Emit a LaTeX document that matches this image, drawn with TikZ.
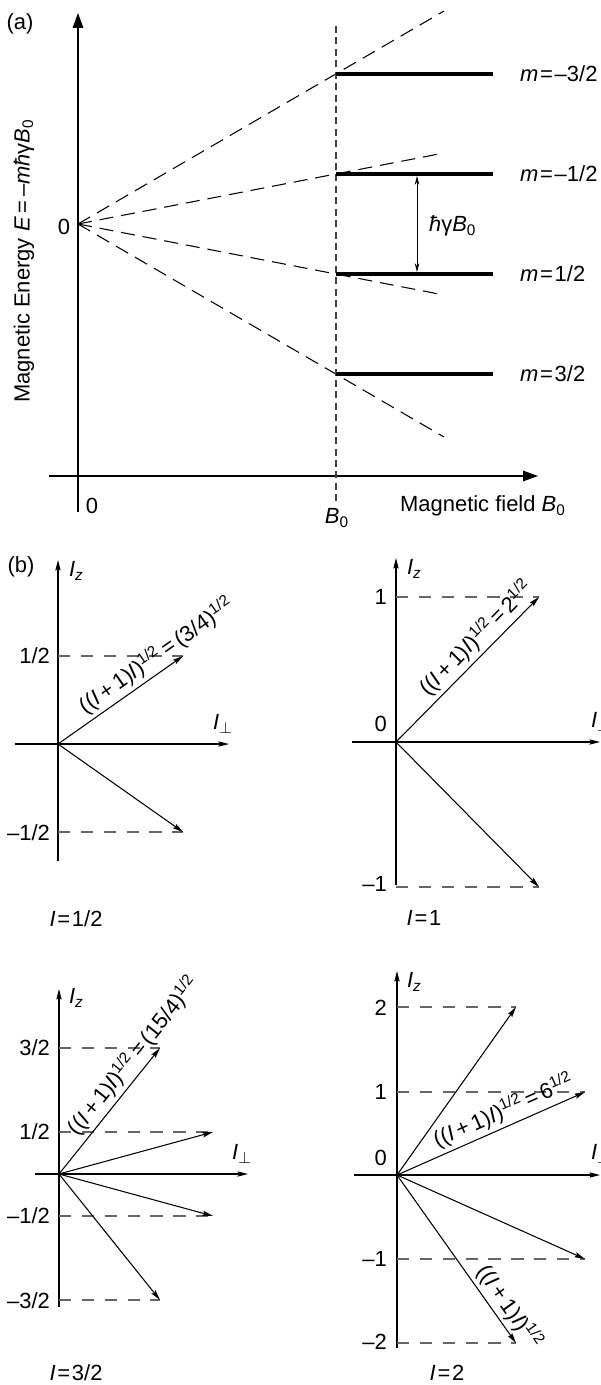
\documentclass[tikz,border=0pt]{standalone}
\usepackage{fontspec}
\setmainfont{Liberation Sans}
\usetikzlibrary{arrows.meta}
\newcommand{\IIlbl}{((\textit{I}\,+\,1)\textit{I})\textsuperscript{1/2}}
\begin{document}
\begin{tikzpicture}[x=0.02cm,y=-0.02cm,
  every node/.style={font=\fontsize{12.5}{14}\selectfont, inner sep=1pt},
  axisA/.style={line width=0.7pt, -{Triangle[length=8.5pt,width=6pt]}},
  axisB/.style={line width=0.6pt, -{Stealth[length=6pt,width=3pt,inset=1pt]}},
  vec/.style={line width=0.6pt, -{Stealth[length=6pt,width=3pt,inset=1pt]}},
  fan/.style={line width=0.6pt, dash pattern=on 8pt off 4.5pt},
  vdash/.style={line width=0.6pt, black!75, dash pattern=on 4pt off 2.5pt},
  hdash/.style={line width=0.6pt, black!60, dash pattern=on 7pt off 6pt},
  level/.style={line width=1.9pt},
  lab/.style={sloped, above, inner sep=2pt},
  tick/.style={anchor=east},
]
\useasboundingbox (0,0) rectangle (601,1385);

% ---------------- panel (a) ----------------
\node (pa) at (20,24) {(a)};
\coordinate (yb) at (78,512);
\coordinate (yt) at (78,13);
\coordinate (xl) at (49,476);
\coordinate (xr) at (538,476);
\draw[axisA] (yb) -- (yt);
\draw[axisA] (xl) -- (xr);
\node[rotate=90] (ylab) at (24,261) {Magnetic Energy \textit{E}\,=\,–\textit{mħ}γ\textit{B}\textsubscript{0}};
\node (zero) at (64,227) {0};
\node (zerox) at (92,506) {0};
\node[anchor=west] (xlab) at (398,506) {Magnetic field \textit{B}\textsubscript{0}};
\node (b0) at (337,518) {\textit{B}\textsubscript{0}};

\coordinate (oa) at (78,224);
\coordinate (f1) at (444,11);
\coordinate (f2) at (444,153);
\coordinate (f3) at (444,295);
\coordinate (f4) at (444,437);
\draw[fan] (oa) -- (f1);
\draw[fan] (oa) -- (f2);
\draw[fan] (oa) -- (f3);
\draw[fan] (oa) -- (f4);

\coordinate (vt) at (336,26);
\coordinate (vb) at (336,504);
\draw[vdash] (vt) -- (vb);

\coordinate (l1a) at (336,74);  \coordinate (l1b) at (493,74);
\coordinate (l2a) at (336,174); \coordinate (l2b) at (493,174);
\coordinate (l3a) at (336,274); \coordinate (l3b) at (493,274);
\coordinate (l4a) at (336,374); \coordinate (l4b) at (493,374);
\draw[level] (l1a) -- (l1b);
\draw[level] (l2a) -- (l2b);
\draw[level] (l3a) -- (l3b);
\draw[level] (l4a) -- (l4b);
\node[anchor=west] (m1) at (518,74) {\textit{m}\hspace{1pt}=\hspace{1pt}–3/2};
\node[anchor=west] (m2) at (518,174) {\textit{m}\hspace{1pt}=\hspace{1pt}–1/2};
\node[anchor=west] (m3) at (518,274) {\textit{m}\hspace{1pt}=\hspace{1pt}1/2};
\node[anchor=west] (m4) at (518,374) {\textit{m}\hspace{1pt}=\hspace{1pt}3/2};

\coordinate (h1) at (417,176);
\coordinate (h2) at (417,272);
\draw[line width=0.5pt, {Stealth[length=5pt,width=2.6pt]}-{Stealth[length=5pt,width=2.6pt]}] (h1) -- (h2);
\node[anchor=west] (hg) at (427,226) {\textit{ħ}γ\textit{B}\textsubscript{0}};

% ---------------- panel (b) ----------------
\node (pb) at (21,567) {(b)};

% I = 1/2
\coordinate (o1) at (58,744);
\coordinate (z1b) at (58,861);
\coordinate (z1t) at (58,560);
\coordinate (x1l) at (15,744);
\coordinate (x1r) at (229,744);
\coordinate (t1a) at (183,656);
\coordinate (t1b) at (183,832);
\coordinate (d1a) at (58,656);
\coordinate (d1b) at (58,832);
\draw[axisB] (z1b) -- (z1t);
\draw[axisB] (x1l) -- (x1r);
\draw[hdash] (d1a) -- (t1a);
\draw[hdash] (d1b) -- (t1b);
\draw[vec] (o1) -- node[lab,pos=0.86]{\IIlbl\,=\,(3/4)\textsuperscript{1/2}} (t1a);
\draw[vec] (o1) -- (t1b);
\node[tick] (k1a) at (52,656) {1/2};
\node[tick] (k1b) at (52,833) {–1/2};
\node[anchor=west] (iz1) at (67,571) {\textit{I}\textsubscript{\textit{z}}};
\node (ip1) at (223,724) {\textit{I}$_\perp$};
\node (c1) at (76,919) {\textit{I}\hspace{1pt}=\hspace{1pt}1/2};

% I = 1
\coordinate (o2) at (396,742);
\coordinate (z2b) at (396,885);
\coordinate (z2t) at (396,558);
\coordinate (x2l) at (352,742);
\coordinate (x2r) at (600,742);
\coordinate (t2a) at (539,597);
\coordinate (t2b) at (539,887);
\coordinate (d2a) at (396,597);
\coordinate (d2b) at (396,887);
\draw[axisB] (z2b) -- (z2t);
\draw[axisB] (x2l) -- (x2r);
\draw[hdash] (d2a) -- (t2a);
\draw[hdash] (d2b) -- (t2b);
\draw[vec] (o2) -- node[lab,pos=0.64]{\IIlbl\,=\,2\textsuperscript{1/2}} (t2a);
\draw[vec] (o2) -- (t2b);
\node[tick] (k2a) at (389,597) {1};
\node[tick] (k2o) at (389,724) {0};
\node[tick] (k2b) at (389,884) {–1};
\node[anchor=west] (iz2) at (405,569) {\textit{I}\textsubscript{\textit{z}}};
\node[anchor=west] (ip2) at (589,722) {\textit{I}$_\perp$};
\node (c2) at (424,918) {\textit{I}\hspace{1pt}=\hspace{1pt}1};

% I = 3/2
\coordinate (o3) at (59,1174);
\coordinate (z3b) at (59,1307);
\coordinate (z3t) at (59,989);
\coordinate (x3l) at (35,1174);
\coordinate (x3r) at (248,1174);
\coordinate (t3a) at (160,1048);
\coordinate (t3b) at (213,1132);
\coordinate (t3c) at (213,1216);
\coordinate (t3d) at (160,1300);
\coordinate (d3a) at (59,1048);
\coordinate (d3b) at (59,1132);
\coordinate (d3c) at (59,1216);
\coordinate (d3d) at (59,1300);
\draw[axisB] (z3b) -- (z3t);
\draw[axisB] (x3l) -- (x3r);
\draw[hdash] (d3a) -- (t3a);
\draw[hdash] (d3b) -- (t3b);
\draw[hdash] (d3c) -- (t3c);
\draw[hdash] (d3d) -- (t3d);
\draw[vec] (o3) -- node[lab,pos=0.86]{\IIlbl\,=\,(15/4)\textsuperscript{1/2}} (t3a);
\draw[vec] (o3) -- (t3b);
\draw[vec] (o3) -- (t3c);
\draw[vec] (o3) -- (t3d);
\node[tick] (k3a) at (52,1048) {3/2};
\node[tick] (k3b) at (52,1132) {1/2};
\node[tick] (k3c) at (52,1216) {–1/2};
\node[tick] (k3d) at (52,1301) {–3/2};
\node[anchor=west] (iz3) at (67,998) {\textit{I}\textsubscript{\textit{z}}};
\node (ip3) at (242,1154) {\textit{I}$_\perp$};
\node (c3) at (76,1373) {\textit{I}\hspace{1pt}=\hspace{1pt}3/2};

% I = 2
\coordinate (o4) at (397,1175);
\coordinate (z4b) at (397,1348);
\coordinate (z4t) at (397,971);
\coordinate (x4l) at (354,1175);
\coordinate (x4r) at (600,1175);
\coordinate (t4a) at (516,1007);
\coordinate (t4b) at (585,1092);
\coordinate (t4c) at (585,1259);
\coordinate (t4d) at (516,1343);
\coordinate (d4a) at (397,1007);
\coordinate (d4b) at (397,1092);
\coordinate (d4c) at (397,1259);
\coordinate (d4d) at (397,1343);
\draw[axisB] (z4b) -- (z4t);
\draw[axisB] (x4l) -- (x4r);
\draw[hdash] (d4a) -- (t4a);
\draw[hdash] (d4b) -- (t4b);
\draw[hdash] (d4c) -- (t4c);
\draw[hdash] (d4d) -- (t4d);
\draw[vec] (o4) -- (t4a);
\draw[vec] (o4) -- node[lab,pos=0.6]{\IIlbl\,=\,6\textsuperscript{1/2}} (t4b);
\draw[vec] (o4) -- (t4c);
\draw[vec] (o4) -- node[lab,pos=0.84]{\IIlbl} (t4d);
\node[tick] (k4a) at (389,1008) {2};
\node[tick] (k4b) at (389,1092) {1};
\node[tick] (k4o) at (389,1158) {0};
\node[tick] (k4c) at (389,1259) {–1};
\node[tick] (k4d) at (389,1342) {–2};
\node[anchor=west] (iz4) at (405,982) {\textit{I}\textsubscript{\textit{z}}};
\node[anchor=west] (ip4) at (589,1154) {\textit{I}$_\perp$};
\node (c4) at (447,1373) {\textit{I}\hspace{1pt}=\hspace{1pt}2};
\end{tikzpicture}
\end{document}
